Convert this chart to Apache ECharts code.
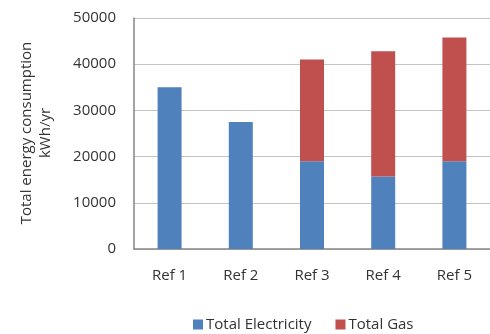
<!DOCTYPE html>
<html>
<head>
<meta charset="utf-8">
<script src="https://cdn.jsdelivr.net/npm/echarts@6/dist/echarts.min.js"></script>
<style>
  html, body { margin: 0; padding: 0; background: #fff; }
  #main { width: 490px; height: 334px; }
</style>
</head>
<body>
<div id="main"></div>
<script>
var categories = ['Ref 1', 'Ref 2', 'Ref 3', 'Ref 4', 'Ref 5'];
var electricity = [35000, 27500, 19000, 15700, 19000];
var gas = [0, 0, 22000, 27100, 26800];
var yTicks = [0, 10000, 20000, 30000, 40000, 50000];
var yTitle = ['Total energy consumption', 'kWh/yr'];

var chart = echarts.init(document.getElementById('main'));
var font = 'Open Sans';
var textColor = '#333';
var titleFont = '15px "Open Sans"';

// measure each title line so both can be centred on the same point
var ctx = document.createElement('canvas').getContext('2d');
ctx.font = titleFont;
var titleX = [27, 46];
var titleMid = 133;
var titleGraphics = yTitle.map(function (line, i) {
  var w = ctx.measureText(line).width;
  return {
    type: 'text',
    x: titleX[i],
    y: titleMid + w / 2,
    rotation: Math.PI / 2,
    style: {
      text: line,
      font: titleFont,
      fill: textColor,
      align: 'left',
      verticalAlign: 'middle'
    }
  };
});

chart.setOption({
  backgroundColor: '#ffffff',
  animation: false,
  textStyle: { fontFamily: font },
  grid: {
    left: 134,
    right: 0,
    top: 18,
    bottom: 85
  },
  graphic: titleGraphics,
  legend: {
    top: 312,
    left: 188,
    itemWidth: 10,
    itemHeight: 10,
    itemGap: 24,
    icon: 'rect',
    textStyle: { fontFamily: font, fontSize: 15, color: textColor, padding: [0, 0, 0, -2] },
    data: ['Total Electricity', 'Total Gas']
  },
  xAxis: {
    type: 'category',
    data: categories,
    axisLine: { lineStyle: { color: '#868686', width: 1.5 } },
    axisTick: { show: false },
    axisLabel: { color: textColor, fontSize: 15, margin: 19 }
  },
  yAxis: {
    type: 'value',
    min: yTicks[0],
    max: yTicks[yTicks.length - 1],
    interval: yTicks[1] - yTicks[0],
    axisLine: { show: true, lineStyle: { color: '#868686', width: 1.5 } },
    axisTick: { show: false },
    axisLabel: {
      color: textColor,
      fontSize: 15,
      margin: 18,
      formatter: function (v) { return String(v); }
    },
    splitLine: { lineStyle: { color: '#c4c4c4', width: 1 } }
  },
  series: [
    {
      name: 'Total Electricity',
      type: 'bar',
      stack: 'total',
      barWidth: 24,
      itemStyle: { color: '#4f81bd' },
      data: electricity
    },
    {
      name: 'Total Gas',
      type: 'bar',
      stack: 'total',
      barWidth: 24,
      itemStyle: { color: '#c0504d' },
      data: gas
    }
  ]
});
</script>
</body>
</html>
